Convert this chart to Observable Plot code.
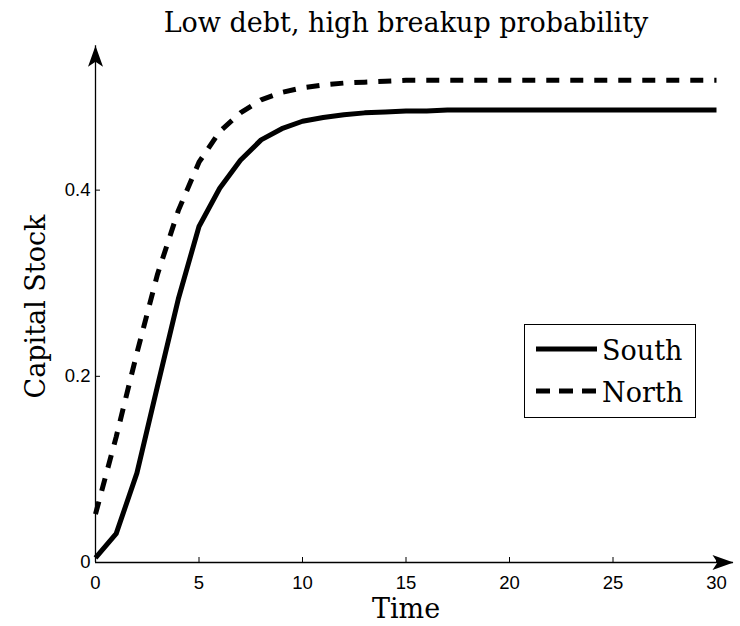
<!DOCTYPE html>
<html><head><meta charset="utf-8">
<script src="https://cdn.jsdelivr.net/npm/d3@7"></script>
<script src="https://cdn.jsdelivr.net/npm/@observablehq/plot@0.6"></script>
<style>
body{margin:0;background:#fff;}
#wrap{position:relative;width:740px;height:626px;}
#legend{position:absolute;left:0;top:0;pointer-events:none;}
</style></head><body><div id="wrap"></div>
<script>
const titleText = "Low debt, high breakup probability";
const xLabel = "Time";
const yLabel = "Capital Stock";
const time = [0,1,2,3,4,5,6,7,8,9,10,11,12,13,14,15,16,17,18,19,20,21,22,23,24,25,26,27,28,29,30];
const south = [0.005,0.031,0.096,0.190,0.283,0.361,0.402,0.432,0.454,0.466,0.474,0.478,0.481,0.483,0.484,0.485,0.485,0.486,0.486,0.486,0.486,0.486,0.486,0.486,0.486,0.486,0.486,0.486,0.486,0.486,0.486];
const north = [0.052,0.135,0.225,0.310,0.378,0.430,0.463,0.483,0.497,0.505,0.510,0.513,0.515,0.516,0.517,0.518,0.518,0.518,0.518,0.518,0.518,0.518,0.518,0.518,0.518,0.518,0.518,0.518,0.518,0.518,0.518];
const xTicks = [0,5,10,15,20,25,30];
const yTicks = [0,0.2,0.4];
const seriesNames = ["South","North"];
const xDomain = [0,30];
const yDomain = [0,0.55];
const xArrowEnd = 30.82;
const yArrowEnd = 0.555;

const W = 740, H = 626;
const mL = 95, mR = 24, mT = 50, mB = 64;
const plotW = W - mL - mR, plotH = H - mT - mB;
const serif = "'DejaVu Serif', serif";
const sans = "'Liberation Sans', Arial, sans-serif";

const data = [];
time.forEach((t,i) => {
  data.push({t, v: south[i], s: seriesNames[0]});
  data.push({t, v: north[i], s: seriesNames[1]});
});

const upHead = {draw(ctx){ctx.moveTo(0,0);ctx.lineTo(-7.5,21);ctx.lineTo(0,16);ctx.lineTo(7.5,21);ctx.closePath();}};
const rightHead = {draw(ctx){ctx.moveTo(0,0);ctx.lineTo(-21,-7.5);ctx.lineTo(-16,0);ctx.lineTo(-21,7.5);ctx.closePath();}};

const chart = Plot.plot({
  width: W, height: H,
  marginLeft: mL, marginRight: mR, marginTop: mT, marginBottom: mB,
  x: {domain: xDomain},
  y: {domain: yDomain},
  style: {background: "#fff", color: "#000"},
  marks: [
    Plot.ruleX([0], {y1: 0, y2: yArrowEnd, stroke: "#000", strokeWidth: 1.3}),
    Plot.ruleY([0], {x1: 0, x2: xArrowEnd, stroke: "#000", strokeWidth: 1.3}),
    Plot.dot([{x: 0, y: yArrowEnd}], {x: "x", y: "y", symbol: upHead, fill: "#000", stroke: "none"}),
    Plot.dot([{x: xArrowEnd, y: 0}], {x: "x", y: "y", symbol: rightHead, fill: "#000", stroke: "none"}),
    Plot.ruleX(xTicks, {x: d => d, insetTop: plotH - 5, stroke: "#000", strokeWidth: 1}),
    Plot.ruleY(yTicks, {y: d => d, insetRight: plotW - 5, stroke: "#000", strokeWidth: 1}),
    Plot.axisX(xTicks, {tickSize: 0, tickPadding: 13, fontSize: 18.5, fontFamily: sans, label: null}),
    Plot.axisY(yTicks, {tickSize: 0, tickPadding: 5, fontSize: 18.5, fontFamily: sans, label: null,
      tickFormat: d => d === 0 ? "0" : d.toFixed(1)}),
    Plot.line(data.filter(d => d.s === seriesNames[0]), {x: "t", y: "v", stroke: "#000", strokeWidth: 5, strokeLinejoin: "round", strokeLinecap: "butt"}),
    Plot.line(data.filter(d => d.s === seriesNames[1]), {x: "t", y: "v", stroke: "#000", strokeWidth: 5, strokeDasharray: "13,11", strokeLinejoin: "miter", strokeLinecap: "butt"}),
    Plot.text([titleText], {frameAnchor: "top", dy: -19, lineAnchor: "bottom", fontSize: 27, fontFamily: serif, text: d => d}),
    Plot.text([xLabel], {frameAnchor: "bottom", dy: 55, lineAnchor: "bottom", fontSize: 27, fontFamily: serif, text: d => d}),
    Plot.text([yLabel], {frameAnchor: "left", dx: -59, rotate: -90, textAnchor: "middle", lineAnchor: "middle", fontSize: 27, fontFamily: serif, text: d => d})
  ]
});
document.getElementById("wrap").appendChild(chart);

// Legend overlay
const legendItems = [{label: seriesNames[0], dash: null}, {label: seriesNames[1], dash: "14,9"}];
const lg = d3.select("#wrap").append("svg").attr("id","legend").attr("width", W).attr("height", H);
lg.append("rect").attr("x", 524.5).attr("y", 324.5).attr("width", 171).attr("height", 93)
  .attr("fill", "#fff").attr("stroke", "#000").attr("stroke-width", 1);
legendItems.forEach((it, i) => {
  const yy = 349 + i * 42;
  lg.append("line").attr("x1", 536).attr("x2", 597).attr("y1", yy).attr("y2", yy)
    .attr("stroke", "#000").attr("stroke-width", 5).attr("stroke-dasharray", it.dash);
  lg.append("text").attr("x", 602).attr("y", yy + 11).attr("font-family", serif).attr("font-size", 27)
    .attr("fill", "#000").text(it.label);
});
</script></body></html>
